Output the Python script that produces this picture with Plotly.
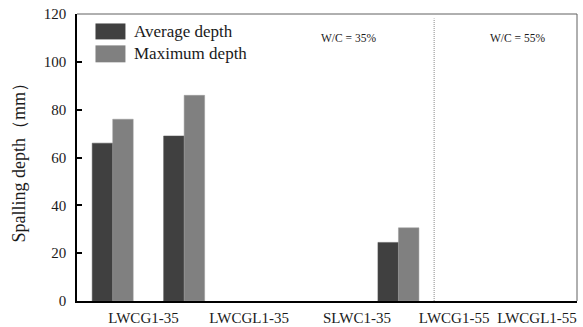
import plotly.graph_objects as go

# ---- data ----
slots = [0, 1, 2, 3, 4, 5, 6]
average_depth = [66, 69, None, None, 24.5, None, None]
maximum_depth = [76, 86, None, None, 30.6, None, None]
tick_positions = [0.43, 1.91, 3.42, 4.78, 5.94]
tick_labels = ["LWCG1-35", "LWCGL1-35", "SLWC1-35", "LWCG1-55", "LWCGL1-55"]
series_names = ["Average depth", "Maximum depth"]
wc_labels = ["W/C = 35%", "W/C = 55%"]

W, H = 583, 327
ML, MR, MT, MB = 76.5, 6, 13.5, 25.5
PW, PH = W - ML - MR, H - MT - MB

def px(x):
    return (x - ML) / PW

def py(y):
    return (H - MB - y) / PH

SERIF = "Liberation Serif, Times New Roman, serif"
DARK = "#404040"
LIGHT = "#808080"

fig = go.Figure()
fig.add_trace(go.Bar(x=slots, y=average_depth, name=series_names[0],
                     marker=dict(color=DARK, line=dict(color="#505050", width=0.5))))
fig.add_trace(go.Bar(x=slots, y=maximum_depth, name=series_names[1],
                     marker=dict(color=LIGHT, line=dict(color="#9a9a9a", width=0.5))))

fig.update_layout(
    width=W, height=H,
    margin=dict(l=ML, r=MR, t=MT, b=MB, pad=0, autoexpand=False),
    paper_bgcolor="white", plot_bgcolor="white",
    barmode="group", bargap=0.426, bargroupgap=0,
    showlegend=False,
    font=dict(family=SERIF, color="#1a1a1a"),
)
fig.update_xaxes(
    range=[-0.5, 6.5], tickmode="array", tickvals=tick_positions, ticktext=tick_labels,
    showgrid=False, zeroline=False, showline=True, linecolor="black", linewidth=1.5,
    ticks="", ticklabelstandoff=2, automargin=False,
    tickfont=dict(size=15, family=SERIF, color="#1a1a1a"),
)
fig.update_yaxes(
    range=[0, 120], dtick=20, showgrid=False, zeroline=False,
    showline=True, linecolor="black", linewidth=1.5,
    ticks="inside", ticklen=5, tickwidth=1.5, tickcolor="black",
    ticklabelstandoff=6, automargin=False,
    tickfont=dict(size=15, family=SERIF, color="#1a1a1a"),
)

# top / right frame
fig.add_shape(type="line", xref="paper", yref="paper", x0=0, x1=1, y0=1, y1=1,
              line=dict(color="#606060", width=1))
fig.add_shape(type="line", xref="paper", yref="paper", x0=1, x1=1, y0=0, y1=1,
              line=dict(color="#606060", width=1))
# separator
fig.add_shape(type="line", xref="x", yref="paper", x0=4.5, x1=4.5, y0=0, y1=py(18),
              line=dict(color="#8a8a8a", width=1, dash="1px,1px"))

# W/C annotations
for xpix, txt in zip([348, 517], wc_labels):
    fig.add_annotation(x=px(xpix), y=py(38), xref="paper", yref="paper", text=txt,
                       showarrow=False, xanchor="center", yanchor="middle",
                       font=dict(size=11.5, family=SERIF, color="#1a1a1a"))

# custom legend
for (y0, y1, yc), col, name in zip([(23, 39, 31), (45, 62, 53.5)], [DARK, LIGHT], series_names):
    fig.add_shape(type="rect", xref="paper", yref="paper",
                  x0=px(95), x1=px(125), y0=py(y1), y1=py(y0),
                  fillcolor=col, line=dict(width=0))
    fig.add_annotation(x=px(132), y=py(yc), xref="paper", yref="paper", text=name,
                       showarrow=False, xanchor="left", yanchor="middle",
                       font=dict(size=17, family=SERIF, color="#1a1a1a"))

# y-axis title
fig.add_annotation(x=px(18), y=py(158), xref="paper", yref="paper",
                   text="Spalling depth（mm）", textangle=-90, showarrow=False,
                   xanchor="center", yanchor="middle",
                   font=dict(size=18, family=SERIF, color="#1a1a1a"))

fig.write_html("out.html")
